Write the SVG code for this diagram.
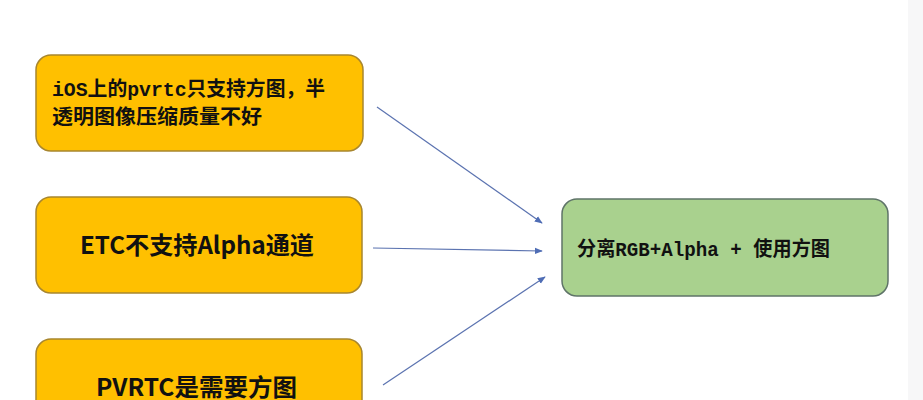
<svg xmlns="http://www.w3.org/2000/svg" width="923" height="400" viewBox="0 0 923 400">
<defs>
<style>
.ob{fill:#FFC000;stroke:#A8862E;stroke-width:1.5}
.gb{fill:#A9D18E;stroke:#5F7468;stroke-width:1.5}
.ser{font-family:"Liberation Mono","Noto Sans CJK SC",monospace;font-size:20px;font-weight:bold;fill:#111}
.bold{font-family:"Noto Sans CJK SC","Noto Sans",sans-serif;font-size:24px;font-weight:bold;fill:#111}
.conn{stroke:#5B73B0;stroke-width:1.2;fill:none}
</style>
<marker id="ah" viewBox="0 0 10 10" refX="9" refY="5" markerWidth="8" markerHeight="8" markerUnits="userSpaceOnUse" orient="auto">
<path d="M0,1 L10,5 L0,9 z" fill="#4F6DB5"/>
</marker>
</defs>
<rect width="923" height="400" fill="#ffffff"/>
<rect x="908" y="0" width="15" height="400" fill="#f7f7f8"/>
<g id="node-ios">
<rect class="ob" x="36" y="55" width="327" height="96" rx="15"/>
<text class="ser" x="52" y="96" textLength="273" lengthAdjust="spacingAndGlyphs">iOS上的pvrtc只支持方图，半</text>
<text class="ser" x="52" y="124" textLength="210" lengthAdjust="spacingAndGlyphs">透明图像压缩质量不好</text>
</g>
<g id="node-etc">
<rect class="ob" x="36" y="197" width="326" height="96" rx="15"/>
<text class="bold" x="80" y="254" textLength="234" lengthAdjust="spacingAndGlyphs">ETC不支持Alpha通道</text>
</g>
<g id="node-pvrtc">
<rect class="ob" x="36" y="339" width="326" height="96" rx="15"/>
<text class="bold" x="96" y="396" textLength="201" lengthAdjust="spacingAndGlyphs">PVRTC是需要方图</text>
</g>
<g id="node-result">
<rect class="gb" x="562" y="199" width="326" height="97" rx="15"/>
<text class="ser" x="577" y="256" textLength="253" lengthAdjust="spacingAndGlyphs">分离RGB+Alpha + 使用方图</text>
</g>
<g id="connectors">
<line class="conn" x1="377" y1="107" x2="542" y2="223" marker-end="url(#ah)"/>
<line class="conn" x1="373" y1="248" x2="542" y2="251" marker-end="url(#ah)"/>
<line class="conn" x1="383" y1="385" x2="545" y2="277" marker-end="url(#ah)"/>
</g>
</svg>
